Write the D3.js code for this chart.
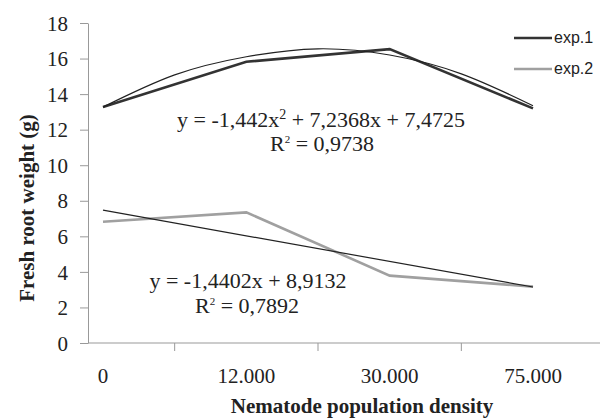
<!DOCTYPE html>
<html>
<head>
<meta charset="utf-8">
<script src="https://cdn.jsdelivr.net/npm/d3@7"></script>
<style>
  body { margin: 0; background: #fff; }
  .axis path, .axis line { stroke: #999; }
  .axis text { font-family: "Liberation Serif", "Times New Roman", serif; font-size: 21px; fill: #222; }
</style>
</head>
<body>
<div id="chart"></div>
<script>
// categories on the x axis
const densities = ['0', '12.000', '30.000', '75.000'];
// y ticks
const yTicks = [0, 2, 4, 6, 8, 10, 12, 14, 16, 18];

const exp1 = [13.27, 15.82, 16.53, 13.2];
const exp2 = [6.82, 7.35, 3.79, 3.17];

// trendlines (position in category steps, value)
const trend1Pos = [0, 0.5, 1, 1.5, 2, 2.5, 3];
const trend1Val = [13.27, 15.08, 16.1, 16.55, 16.2, 15.14, 13.35];
const trend2Pos = [0, 3];
const trend2Val = [7.47, 3.15];

const eq1 = ['y = -1,442x', '2', ' + 7,2368x + 7,4725'];
const r1 = '0,9738';
const eq2 = 'y = -1,4402x + 8,9132';
const r2 = '0,7892';

const W = 607, H = 419;
const marginLeft = 88, marginTop = 23, plotBottom = 343;

const svg = d3.select('#chart')
  .append('svg')
  .attr('width', W)
  .attr('height', H);

const y = d3.scaleLinear().domain([0, 18]).range([plotBottom, marginTop]);
// category centres sit 143px apart, first one just right of the y axis
const x = d3.scaleLinear().domain([0, 3]).range([103, 533]);
const step = x(1) - x(0);

// y axis
svg.append('g')
  .attr('class', 'axis')
  .attr('transform', 'translate(' + marginLeft + ',0)')
  .call(d3.axisLeft(y).tickValues(yTicks).tickSize(8).tickSizeOuter(0).tickPadding(12))
  .call(g => g.selectAll('text').attr('dy', '0.34em'));

// x axis: a band axis with ticks between the categories
const xb = d3.scaleBand().domain(densities)
  .range([x(0) - step / 2, x(3) + step / 2]);
const xAxis = svg.append('g')
  .attr('class', 'axis')
  .attr('transform', 'translate(0,' + plotBottom + ')');
xAxis.append('line')
  .attr('x1', marginLeft).attr('x2', 600)
  .attr('stroke', '#999');
xAxis.selectAll('.sep')
  .data(densities.slice(1))
  .enter().append('line')
  .attr('x1', d => xb(d)).attr('x2', d => xb(d))
  .attr('y1', 0).attr('y2', 8)
  .attr('stroke', '#999');
xAxis.selectAll('.lbl')
  .data(densities)
  .enter().append('text')
  .attr('x', d => xb(d) + xb.bandwidth() / 2)
  .attr('y', 40)
  .attr('text-anchor', 'middle')
  .text(d => d);

// series
const line = d3.line()
  .x((d, i) => x(i))
  .y(d => y(d));

svg.append('path')
  .datum(exp2)
  .attr('fill', 'none')
  .attr('stroke', '#a0a0a0')
  .attr('stroke-width', 2.6)
  .attr('d', line);

svg.append('path')
  .datum(exp1)
  .attr('fill', 'none')
  .attr('stroke', '#333')
  .attr('stroke-width', 2.6)
  .attr('d', line);

// trendlines
const trendLine = d3.line()
  .x(d => x(d[0]))
  .y(d => y(d[1]))
  .curve(d3.curveNatural);

svg.append('path')
  .datum(d3.zip(trend1Pos, trend1Val))
  .attr('fill', 'none')
  .attr('stroke', '#222')
  .attr('stroke-width', 1.2)
  .attr('d', trendLine);

svg.append('path')
  .datum(d3.zip(trend2Pos, trend2Val))
  .attr('fill', 'none')
  .attr('stroke', '#222')
  .attr('stroke-width', 1.2)
  .attr('d', trendLine);

// equations
const serif = '"Liberation Serif", "Times New Roman", serif';
const t1 = svg.append('text')
  .attr('x', 321).attr('y', 127)
  .attr('text-anchor', 'middle')
  .attr('font-family', serif).attr('font-size', 22).attr('fill', '#222');
t1.append('tspan').text(eq1[0]);
t1.append('tspan').attr('dy', -8).attr('font-size', 14).text(eq1[1]);
t1.append('tspan').attr('dy', 8).text(eq1[2]);

function rText(cx, cy, val) {
  const t = svg.append('text')
    .attr('x', cx).attr('y', cy)
    .attr('text-anchor', 'middle')
    .attr('font-family', serif).attr('font-size', 22).attr('fill', '#222');
  t.append('tspan').text('R');
  t.append('tspan').attr('dy', -8).attr('font-size', 11).text('2');
  t.append('tspan').attr('dy', 8).text(' = ' + val);
}
rText(322, 151, r1);

svg.append('text')
  .attr('x', 248).attr('y', 288)
  .attr('text-anchor', 'middle')
  .attr('font-family', serif).attr('font-size', 22).attr('fill', '#222')
  .text(eq2);
rText(247, 313, r2);

// legend
const legend = svg.append('g').attr('transform', 'translate(514,38)');
[['exp.1', '#333'], ['exp.2', '#a0a0a0']].forEach((d, i) => {
  legend.append('line')
    .attr('x1', 0).attr('x2', 38)
    .attr('y1', i * 31).attr('y2', i * 31)
    .attr('stroke', d[1]).attr('stroke-width', 2.6);
  legend.append('text')
    .attr('x', 40).attr('y', i * 31 + 5)
    .attr('font-family', '"Liberation Sans", Arial, sans-serif')
    .attr('font-size', 16).attr('fill', '#222')
    .text(d[0]);
});

// axis titles
svg.append('text')
  .attr('transform', 'translate(34,208) rotate(-90)')
  .attr('text-anchor', 'middle')
  .attr('font-family', serif).attr('font-weight', 'bold')
  .attr('font-size', 21).attr('fill', '#222')
  .text('Fresh root weight (g)');

svg.append('text')
  .attr('x', 362).attr('y', 413)
  .attr('text-anchor', 'middle')
  .attr('font-family', serif).attr('font-weight', 'bold')
  .attr('font-size', 21).attr('fill', '#222')
  .text('Nematode population density');
</script>
</body>
</html>
